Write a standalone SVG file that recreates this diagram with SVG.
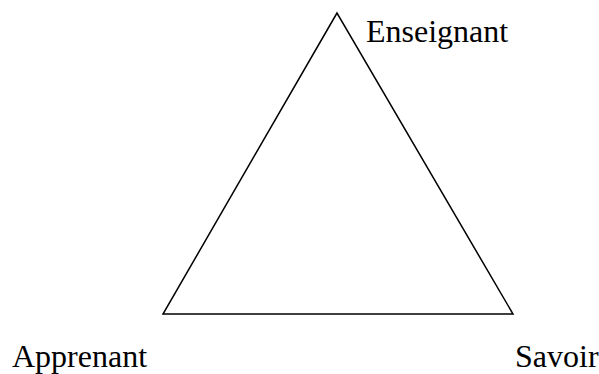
<svg xmlns="http://www.w3.org/2000/svg" width="599" height="374" viewBox="0 0 599 374">
<style>
.lbl{font-family:"Liberation Serif","Times New Roman",serif;font-size:32px;fill:#000}
.edge{fill:none;stroke:#000;stroke-width:1.5}
</style>
<rect width="599" height="374" fill="#fff"/>
<g id="connectors">
<polygon class="edge" points="337,13 163,314 513,314"/>
</g>
<g id="enseignant"><text class="lbl" x="366" y="42">Enseignant</text></g>
<g id="apprenant"><text class="lbl" x="12" y="367">Apprenant</text></g>
<g id="savoir"><text class="lbl" x="515" y="367">Savoir</text></g>
</svg>
